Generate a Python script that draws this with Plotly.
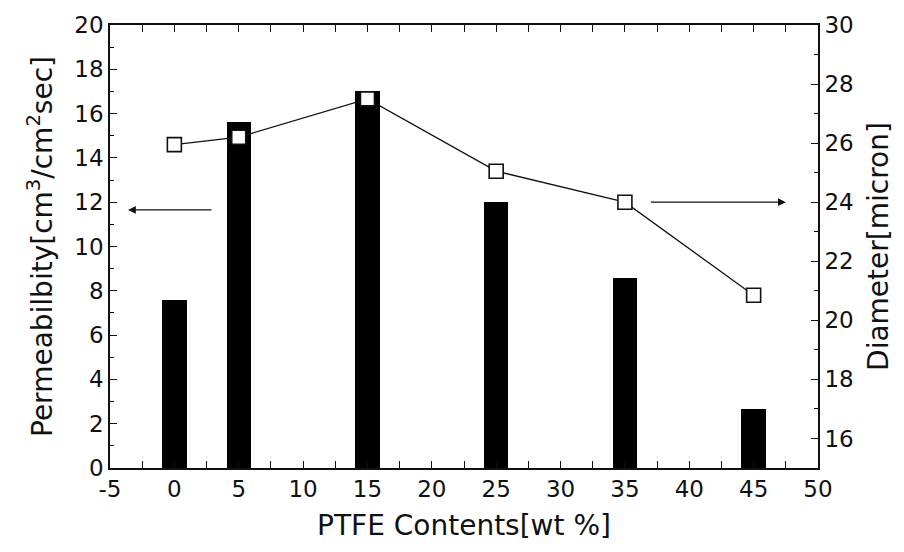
import plotly.graph_objects as go

# PTFE content (wt %) of each sample
ptfe_content = [0, 5, 15, 25, 35, 45]
# Gas permeability, cm^3/cm^2 sec (bars, left axis)
permeability = [7.6, 15.6, 17.0, 12.0, 8.6, 2.65]
# Mean pore diameter, micron (open squares, right axis)
diameter = [25.95, 26.2, 27.5, 25.05, 24.0, 20.85]

# Tick labels
x_tick_values = [-5, 0, 5, 10, 15, 20, 25, 30, 35, 40, 45, 50]
x_tick_labels = ["-5", "0", "5", "10", "15", "20", "25", "30", "35", "40", "45", "50"]

FONT = "DejaVu Sans, Verdana, sans-serif"
INK = "#111111"

fig = go.Figure()

fig.add_trace(go.Bar(
    x=ptfe_content, y=permeability, width=1.9,
    marker=dict(color="black", line=dict(width=0)),
    yaxis="y", showlegend=False,
))

fig.add_trace(go.Scatter(
    x=ptfe_content, y=diameter, mode="lines+markers",
    line=dict(color=INK, width=1.3),
    marker=dict(symbol="square", size=14, color="white",
                line=dict(color=INK, width=1.6)),
    yaxis="y2", showlegend=False,
))

axis_common = dict(
    showline=True, linecolor=INK, linewidth=1.6,
    ticks="inside", ticklen=7, tickwidth=1.3, tickcolor=INK,
    showgrid=False, zeroline=False,
    tickfont=dict(family=FONT, size=23, color=INK),
)
title_font = dict(family=FONT, size=28, color=INK)

fig.update_layout(
    width=904, height=552,
    margin=dict(l=110, r=86, t=25, b=84),
    paper_bgcolor="white", plot_bgcolor="white",
    bargap=0,
    xaxis=dict(
        **axis_common, range=[-5, 50], tickmode="array",
        tickvals=x_tick_values, ticktext=x_tick_labels, mirror="allticks",
        minor=dict(ticks="inside", ticklen=4, tickwidth=1.2, tickcolor=INK, dtick=2.5, tick0=-5),
        title=dict(text="PTFE Contents[wt %]", font=title_font, standoff=14),
    ),
    yaxis=dict(
        **axis_common, range=[0, 20], tick0=0, dtick=2,
        minor=dict(ticks="inside", ticklen=4, tickwidth=1.2, tickcolor=INK, dtick=1),
        title=dict(text="Permeabilbity[cm<sup>3</sup>/cm<sup>2</sup>sec]",
                   font=title_font, standoff=14),
    ),
    yaxis2=dict(
        **axis_common, range=[15, 30], tick0=16, dtick=2,
        overlaying="y", side="right",
        minor=dict(ticks="inside", ticklen=4, tickwidth=1.2, tickcolor=INK, dtick=1, tick0=15),
        title=dict(text="Diameter[micron]", font=title_font, standoff=16),
    ),
    annotations=[
        # arrow pointing to the permeability axis
        dict(x=-3.6, y=11.65, xref="x", yref="y", ax=3.0, ay=11.65, axref="x", ayref="y",
             text="", showarrow=True, arrowhead=2, arrowsize=1.2, arrowwidth=1.3, arrowcolor=INK),
        # arrow pointing to the diameter axis
        dict(x=47.5, y=24.0, xref="x", yref="y2", ax=36.9, ay=24.0, axref="x", ayref="y2",
             text="", showarrow=True, arrowhead=2, arrowsize=1.2, arrowwidth=1.3, arrowcolor=INK),
    ],
)

fig.write_html("out.html")
